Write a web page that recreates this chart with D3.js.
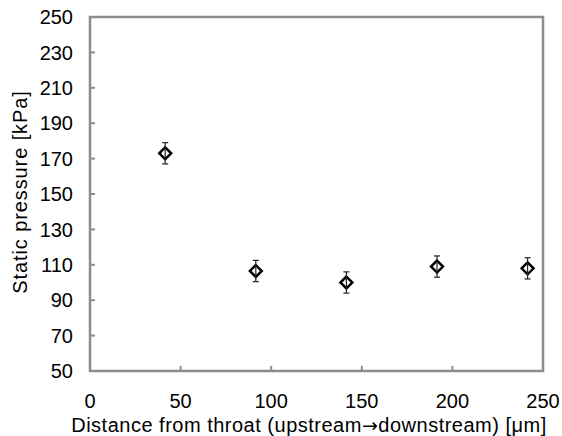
<!DOCTYPE html>
<html>
<head>
<meta charset="utf-8">
<script src="https://cdn.jsdelivr.net/npm/d3@7"></script>
<style>
  body { margin: 0; background: #fff; }
  text { font-family: "Liberation Sans", Arial, sans-serif; fill: #000; }
</style>
</head>
<body>
<svg id="chart" width="562" height="436"></svg>
<script>
// data
const distances = [41.5, 91.5, 141.5, 191.5, 241.5];
const pressures = [173, 106.5, 100, 109, 108];
const errors = [6, 6, 6, 6, 6];
const xTicks = [0, 50, 100, 150, 200, 250];
const yTicks = [50, 70, 90, 110, 130, 150, 170, 190, 210, 230, 250];

const margin = { top: 17, right: 19, bottom: 65, left: 90 };
const width = 562, height = 436;
const w = width - margin.left - margin.right,
  h = height - margin.top - margin.bottom;

const svg = d3.select("#chart");
const g = svg.append("g").attr("transform", `translate(${margin.left},${margin.top})`);

const x = d3.scaleLinear().domain([0, 250]).range([0, w]);
const y = d3.scaleLinear().domain([50, 250]).range([h, 0]);

const axisColor = "#8c8c8c";

// frame
g.append("rect")
  .attr("x", 0).attr("y", 0)
  .attr("width", w).attr("height", h)
  .attr("fill", "none")
  .attr("stroke", axisColor)
  .attr("stroke-width", 2.5);

// inward ticks
g.selectAll("line.ytick")
  .data(yTicks.slice(1, -1))
  .join("line")
    .attr("class", "ytick")
    .attr("x1", 0).attr("x2", 5)
    .attr("y1", d => y(d)).attr("y2", d => y(d))
    .attr("stroke", axisColor).attr("stroke-width", 2);

g.selectAll("line.xtick")
  .data(xTicks.slice(1, -1))
  .join("line")
    .attr("class", "xtick")
    .attr("x1", d => x(d)).attr("x2", d => x(d))
    .attr("y1", h).attr("y2", h - 5)
    .attr("stroke", axisColor).attr("stroke-width", 2);

// tick labels
g.selectAll("text.ylab")
  .data(yTicks)
  .join("text")
    .attr("class", "ylab")
    .attr("x", -17)
    .attr("y", d => y(d))
    .attr("dy", "0.36em")
    .attr("text-anchor", "end")
    .attr("font-size", 20)
    .text(d => d);

g.selectAll("text.xlab")
  .data(xTicks)
  .join("text")
    .attr("class", "xlab")
    .attr("x", d => x(d))
    .attr("y", h + 37)
    .attr("text-anchor", "middle")
    .attr("font-size", 20)
    .text(d => d);

// axis titles
svg.append("text")
  .attr("transform", `translate(27, 192) rotate(-90)`)
  .attr("text-anchor", "middle")
  .attr("font-size", 20)
  .attr("letter-spacing", 0.9)
  .text("Static pressure [kPa]");

const xt = svg.append("text")
  .attr("x", 309)
  .attr("y", 432)
  .attr("text-anchor", "middle")
  .attr("font-size", 20)
  .attr("letter-spacing", 0.5);
xt.append("tspan").text("Distance from throat (upstream");
xt.append("tspan").attr("font-family", "DejaVu Sans").attr("font-size", 19).text("\u2192");
xt.append("tspan").text("downstream)\u00a0[\u03bcm]");

const pts = distances.map((d, i) => ({ x: d, y: pressures[i], e: errors[i] }));

// markers
const diamond = d3.symbol().type(d3.symbolDiamond2 || d3.symbolDiamond).size(90);
g.selectAll("path.marker")
  .data(pts)
  .join("path")
    .attr("class", "marker")
    .attr("transform", d => `translate(${x(d.x)},${y(d.y)})`)
    .attr("d", diamond)
    .attr("fill", "#fff")
    .attr("stroke", "#000")
    .attr("stroke-width", 2.5);

// error bars drawn on top
const eb = g.selectAll("g.err")
  .data(pts)
  .join("g")
    .attr("class", "err")
    .attr("stroke", "#222")
    .attr("stroke-width", 1.2);
eb.append("line")
  .attr("x1", d => x(d.x)).attr("x2", d => x(d.x))
  .attr("y1", d => y(d.y + d.e)).attr("y2", d => y(d.y - d.e));
eb.append("line")
  .attr("x1", d => x(d.x) - 3).attr("x2", d => x(d.x) + 3)
  .attr("y1", d => y(d.y + d.e)).attr("y2", d => y(d.y + d.e));
eb.append("line")
  .attr("x1", d => x(d.x) - 3).attr("x2", d => x(d.x) + 3)
  .attr("y1", d => y(d.y - d.e)).attr("y2", d => y(d.y - d.e));
</script>
</body>
</html>
